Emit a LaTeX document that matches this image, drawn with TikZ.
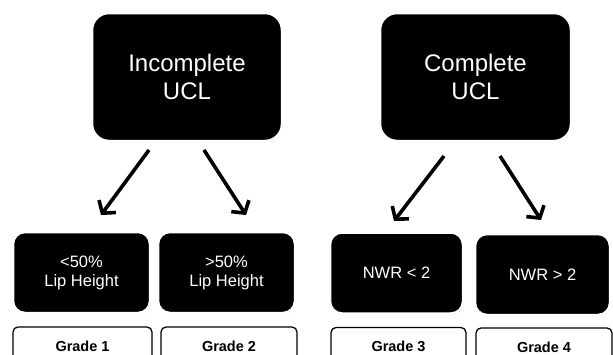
\documentclass[tikz,border=0pt]{standalone}
\usepackage{fontspec}
\setmainfont{Liberation Sans}
\usetikzlibrary{arrows.meta,shadows}
\begin{document}
\begin{tikzpicture}[x=1pt,y=-1pt,
  bigbox/.style={fill=black, draw=white, line width=2.5pt, rounded corners=17pt,
    minimum width=190pt, minimum height=128pt, inner sep=0pt, text=white, align=center,
    font=\fontsize{24}{28}\selectfont,
    drop shadow={opacity=0.35, shadow xshift=0.6pt, shadow yshift=-1.2pt}},
  smallbox/.style={fill=black, draw=white, line width=2.5pt, rounded corners=12pt,
    minimum height=81pt, inner sep=0pt, text=white, align=center,
    font=\fontsize{16.5}{19}\selectfont,
    drop shadow={opacity=0.35, shadow xshift=0.6pt, shadow yshift=-1.2pt}},
  gradebox/.style={fill=white, draw=black, line width=1.3pt, rounded corners=5pt,
    minimum height=38pt, inner sep=0pt, font=\fontsize{14.5}{17}\bfseries\selectfont},
  arr/.style={line width=3.6pt, -{Straight Barb[length=8.5pt,width=21pt,line width=3.6pt]}}
]
\clip (0,0) rectangle (613,354);
\fill[white] (0,0) rectangle (613,354);

\node[bigbox] (inc) at (187,77) {Incomplete\\UCL};
\node[bigbox, minimum width=191pt] (com) at (475.5,77) {Complete\\UCL};

\node[smallbox, minimum width=137pt] (b1) at (81.5,272.5) {<50\%\\Lip Height};
\node[smallbox, minimum width=137pt] (b2) at (226.5,272.5) {>50\%\\Lip Height};
\node[smallbox, minimum width=133pt] (b3) at (396.5,273) {NWR < 2};
\node[smallbox, minimum width=135pt] (b4) at (542.5,274.5) {NWR > 2};

\node[gradebox, minimum width=139pt] (g1) at (82.5,346) {Grade 1};
\node[gradebox, minimum width=136pt] (g2) at (229,346) {Grade 2};
\node[gradebox, minimum width=135pt] (g3) at (398.5,346.5) {Grade 3};
\node[gradebox, minimum width=136pt] (g4) at (544,347) {Grade 4};

\coordinate (a1s) at (149,150);
\coordinate (a1e) at (101,215);
\coordinate (a2s) at (204,150);
\coordinate (a2e) at (246,215);
\coordinate (a3s) at (444,156);
\coordinate (a3e) at (394,221);
\coordinate (a4s) at (500,156);
\coordinate (a4e) at (541,220);

\draw[arr] (a1s) -- (a1e);
\draw[arr] (a2s) -- (a2e);
\draw[arr] (a3s) -- (a3e);
\draw[arr] (a4s) -- (a4e);
\end{tikzpicture}
\end{document}
